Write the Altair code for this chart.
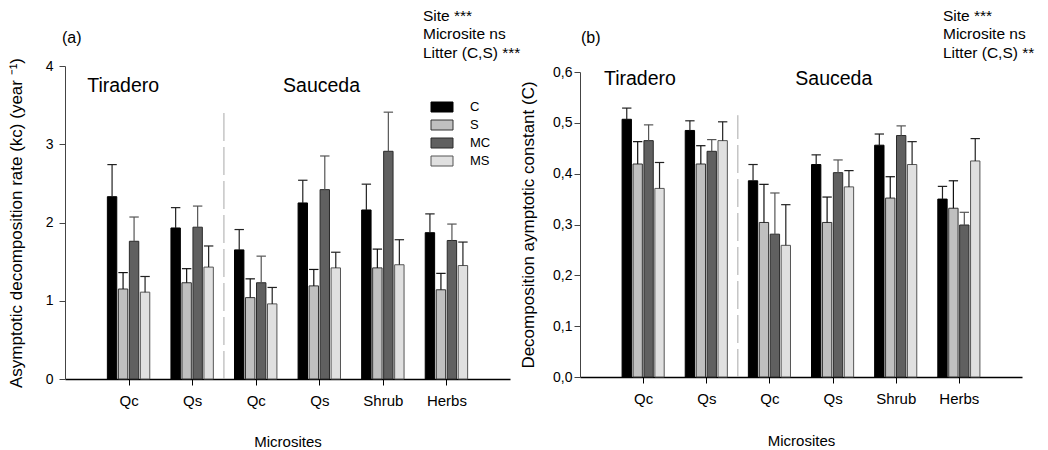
import altair as alt
import pandas as pd

# ---------------- data ----------------
groups = ["Qc", "Qs", "Qc", "Qs", "Shrub", "Herbs"]
group_site = ["Tiradero", "Tiradero", "Sauceda", "Sauceda", "Sauceda", "Sauceda"]
sites = ["Tiradero", "Sauceda"]
series = ["C", "S", "MC", "MS"]

# (a) asymptotic decomposition rate kc (year-1): means and standard errors
kc_C = [2.33, 1.93, 1.65, 2.25, 2.16, 1.87]
kc_S = [1.15, 1.23, 1.04, 1.19, 1.42, 1.14]
kc_MC = [1.76, 1.94, 1.23, 2.42, 2.91, 1.77]
kc_MS = [1.11, 1.43, 0.96, 1.42, 1.46, 1.45]
kc_C_se = [0.41, 0.26, 0.26, 0.29, 0.33, 0.24]
kc_S_se = [0.21, 0.18, 0.24, 0.21, 0.24, 0.21]
kc_MC_se = [0.31, 0.27, 0.34, 0.43, 0.50, 0.21]
kc_MS_se = [0.20, 0.27, 0.21, 0.20, 0.32, 0.30]

# (b) asymptotic constant C: means and standard errors
ac_C = [0.507, 0.485, 0.386, 0.418, 0.456, 0.350]
ac_S = [0.419, 0.419, 0.304, 0.304, 0.352, 0.332]
ac_MC = [0.465, 0.444, 0.281, 0.402, 0.475, 0.299]
ac_MS = [0.371, 0.465, 0.259, 0.374, 0.418, 0.425]
ac_C_se = [0.022, 0.019, 0.032, 0.019, 0.022, 0.025]
ac_S_se = [0.044, 0.036, 0.075, 0.050, 0.042, 0.054]
ac_MC_se = [0.031, 0.023, 0.081, 0.025, 0.019, 0.025]
ac_MS_se = [0.051, 0.037, 0.080, 0.032, 0.045, 0.044]

kc_ticks = [0, 1, 2, 3, 4]
ac_ticks = [0.0, 0.1, 0.2, 0.3, 0.4, 0.5, 0.6]
stats_a = ["Site ***", "Microsite ns", "Litter (C,S) ***"]
stats_b = ["Site ***", "Microsite ns", "Litter (C,S) **"]

# ---------------- style ----------------
FONT = "Liberation Sans"
fills = ["#000000", "#c0c0c0", "#606060", "#e0e0e0"]
strokes = ["#000000", "#333333", "#2a2a2a", "#555555"]
err_cols = ["#222222", "#111111", "#555555", "#222222"]
STEP = 0.173
HALF = 0.074


def make_df(means, ses):
    rows = []
    for gi, g in enumerate(groups):
        for si, s in enumerate(series):
            m = means[si][gi]
            pos = gi + 1 + (si - 1.5) * STEP
            rows.append(dict(group=g, series=s, mean=m, upper=m + ses[si][gi],
                             xc=pos, xl=pos - HALF, xr=pos + HALF,
                             scol=strokes[si], ecol=err_cols[si], fcol=fills[si]))
    return pd.DataFrame(rows)


label_expr = "[''," + ",".join("'%s'" % g for g in groups) + "][datum.value]"
x_scale = alt.Scale(domain=[0, len(groups) + 1], nice=False, zero=False)


def panel(df, ymax, yticks, ytitle, yaxis_kw, sep_top, site_y, site_x,
          tag, tag_xy, stats, stats_xy, width, height, top_gap, xtitle_pad):
    x_axis = alt.Axis(values=list(range(1, len(groups) + 1)), labelExpr=label_expr,
                      grid=False, tickSize=6, labelPadding=8, labelFontSize=15,
                      titleFontSize=15, titlePadding=xtitle_pad,
                      domainColor="#000000", domainWidth=1.5, tickColor="#000000")

    def X(field):
        return alt.X(field + ":Q", scale=x_scale, axis=x_axis, title="Microsites")

    if top_gap:
        y_scale = alt.Scale(domain=[0, ymax], nice=False, range=[height, top_gap])
    else:
        y_scale = alt.Scale(domain=[0, ymax], nice=False)
    y_axis = alt.Axis(values=yticks, grid=False, tickSize=6, labelFontSize=14,
                      titleFontSize=17, domainColor="#444444",
                      tickColor="#444444", **yaxis_kw)

    def Y(field):
        return alt.Y(field + ":Q", scale=y_scale, axis=y_axis, title=ytitle)

    base = alt.Chart(df)
    bars = base.mark_rect(strokeWidth=1).encode(
        x=X("xl"), x2="xr", y=Y("mean"), y2=alt.datum(0),
        fill=alt.Fill("fcol:N", scale=None),
        stroke=alt.Stroke("scol:N", scale=None))
    err = base.mark_rule(strokeWidth=1.2).encode(
        x=X("xc"), y=Y("mean"), y2="upper",
        stroke=alt.Stroke("ecol:N", scale=None))
    caps = base.mark_rule(strokeWidth=1.2).encode(
        x=X("xl"), x2="xr", y=Y("upper"),
        stroke=alt.Stroke("ecol:N", scale=None))

    n_tir = group_site.count("Tiradero")
    sep_df = pd.DataFrame({"x": [n_tir + 0.5], "y0": [0.0], "y1": [sep_top]})
    sep = alt.Chart(sep_df).mark_rule(color="#a8a8a8", strokeWidth=1,
                                      strokeDash=[28, 6]).encode(
        x=X("x"), y=Y("y0"), y2="y1")

    site_df = pd.DataFrame({"site": sites, "x": site_x, "y": [site_y, site_y]})
    site_txt = alt.Chart(site_df).mark_text(
        align="left", baseline="middle", fontSize=19.5, font=FONT,
        color="#000000").encode(x=X("x"), y=Y("y"), text="site:N")

    tag_df = pd.DataFrame({"t": [tag]})
    tag_txt = alt.Chart(tag_df).mark_text(
        align="left", baseline="middle", fontSize=16, font=FONT,
        color="#000000").encode(x=alt.value(tag_xy[0]), y=alt.value(tag_xy[1]),
                                text="t:N")
    st_txt = alt.Chart(tag_df).mark_text(
        align="left", baseline="top", fontSize=15.5, font=FONT,
        lineHeight=18.3, color="#000000").encode(
        x=alt.value(stats_xy[0]), y=alt.value(stats_xy[1]),
        text=alt.value(stats))

    return alt.layer(sep, bars, err, caps, site_txt, tag_txt, st_txt)


df_a = make_df([kc_C, kc_S, kc_MC, kc_MS], [kc_C_se, kc_S_se, kc_MC_se, kc_MS_se])
df_b = make_df([ac_C, ac_S, ac_MC, ac_MS], [ac_C_se, ac_S_se, ac_MC_se, ac_MS_se])

# legend (guide) drawn for panel (a): one swatch + label per litter series
leg_df = pd.DataFrame({"series": series, "fcol": fills, "scol": strokes})
leg_y = alt.Y("series:N", axis=None,
              scale=alt.Scale(type="point", domain=series, range=[41, 95],
                              padding=0))
leg_sw = alt.Chart(leg_df).mark_tick(
    orient="horizontal", size=22, thickness=10, strokeWidth=1, opacity=1).encode(
    x=alt.value(377), y=leg_y,
    fill=alt.Fill("fcol:N", scale=None), stroke=alt.Stroke("scol:N", scale=None))
leg_lb = alt.Chart(leg_df).mark_text(
    align="left", baseline="middle", fontSize=13, font=FONT,
    color="#000000").encode(x=alt.value(405), y=leg_y, text="series:N")
legend_layer = alt.layer(leg_sw, leg_lb)

left_main = panel(df_a, 4, kc_ticks,
                  "Asymptotic decomposition rate (kc) (year \u207b\u00b9)",
                  dict(labelPadding=6, titlePadding=20),
                  3.43, 3.74, [0.35, 3.43], "(a)", (-3, -28), stats_a, (358, -57),
                  445, 313, 0, 26)
left = alt.layer(left_main, legend_layer).resolve_scale(y="independent").properties(
    width=445, height=313)

right = panel(df_b, 0.6, ac_ticks, "Decomposition aymptotic constant (C)",
              dict(labelPadding=2, titlePadding=15,
                   labelExpr="replace(format(datum.value, '.1f'), '.', ',')"),
              0.515, 0.587, [0.38, 3.41], "(b)", (1, -28), stats_b, (363, -57),
              442, 311, 6, 27).properties(width=442, height=311)

chart = alt.hconcat(left, right, spacing=-2).properties(
    padding={"left": 7, "top": 9, "right": 5, "bottom": 5}
).configure_view(stroke=None).configure_axis(
    labelFont=FONT, titleFont=FONT, labelColor="#000000", titleColor="#000000",
    titleFontWeight="normal"
).configure_text(font=FONT)

chart.save("out.html", embed_options={"renderer": "svg", "actions": False})
